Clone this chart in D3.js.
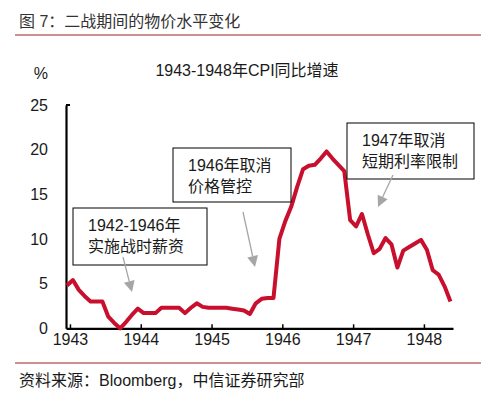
<!DOCTYPE html>
<html>
<head>
<meta charset="utf-8">
<script src="https://cdn.jsdelivr.net/npm/d3@7"></script>
<style>
  body { margin: 0; background: #fff; }
  svg text { font-family: "Liberation Sans", Arial, "Noto Sans CJK SC", sans-serif; fill: #1a1a1a; }
</style>
</head>
<body>
<svg id="chart" width="499" height="405"></svg>
<script>
// monthly CPI yoy, Jan 1943 .. Jun 1948
const cpi = [
  4.8, 5.4, 4.3, 3.6, 3.0, 3.0, 3.0, 1.3, 0.6, 0.0, 0.7, 1.5,
  2.2, 1.7, 1.7, 1.7, 2.3, 2.3, 2.3, 2.3, 1.7, 2.3, 2.8, 2.4,
  2.3, 2.3, 2.3, 2.3, 2.2, 2.1, 2.0, 1.6, 2.8, 3.3, 3.4, 3.4,
  10.0, 12.0, 13.6, 15.8, 17.8, 18.2, 18.3, 19.0, 19.8, 19.0, 18.3, 17.6,
  12.1, 11.4, 12.8, 10.5, 8.4, 8.9, 10.1, 9.4, 6.8, 8.7, 9.1, 9.5,
  9.9, 8.8, 6.5, 6.0, 4.7, 3.0
];
const years = ["1943", "1944", "1945", "1946", "1947", "1948"];
const yTicks = [0, 5, 10, 15, 20, 25];
const notes = [
  { lines: ["1942-1946年", "实施战时薪资"], box: [73, 208, 134, 57], from: [123, 257], to: [132, 292] },
  { lines: ["1946年取消", "价格管控"], box: [173, 148, 118, 54], from: [243, 212], to: [255, 267] },
  { lines: ["1947年取消", "短期利率限制"], box: [347, 123, 127, 56], from: [393, 175], to: [378, 207] }
];

const svg = d3.select("#chart");

// header
svg.append("text").attr("x", 19).attr("y", 27)
  .style("font-size", "16px").style("fill", "#333")
  .text("图 7：二战期间的物价水平变化");
svg.append("line").attr("x1", 15).attr("x2", 481).attr("y1", 35).attr("y2", 35)
  .attr("stroke", "#a31f24").attr("stroke-width", 1.2);

// chart title
svg.append("text").attr("x", 247).attr("y", 76).attr("text-anchor", "middle")
  .style("font-size", "16px").text("1943-1948年CPI同比增速");
svg.append("text").attr("x", 48).attr("y", 79).attr("text-anchor", "end")
  .style("font-size", "16px").text("%");

const x = d3.scaleLinear().domain([-0.17, 65.43]).range([66, 453]);
const y = d3.scaleLinear().domain([0, 25]).range([328.3, 105]);

// y axis
const yAxis = svg.append("g").attr("transform", "translate(66,0)")
  .call(d3.axisLeft(y).tickValues(yTicks).tickSize(0).tickPadding(18));
yAxis.select(".domain").attr("stroke", "#000").attr("stroke-width", 2.2);
yAxis.selectAll("text").style("font-size", "16px").attr("font-family", null);
yAxis.append("line").attr("x1", 0).attr("x2", 4).attr("y1", y(25)).attr("y2", y(25))
  .attr("stroke", "#000").attr("stroke-width", 2);

// x axis
const xAxis = svg.append("g").attr("transform", `translate(0,${y(0)})`)
  .call(d3.axisBottom(x)
    .tickValues(years.map((d, i) => i * 12 + 0.5))
    .tickFormat((d, i) => years[i])
    .tickSizeInner(-4).tickSizeOuter(0).tickPadding(5));
xAxis.select(".domain").attr("stroke", "#000").attr("stroke-width", 2.2);
xAxis.selectAll(".tick line").attr("stroke", "#000").attr("stroke-width", 1.5);
xAxis.selectAll("text").style("font-size", "16px").attr("font-family", null);

// line
const line = d3.line().x((d, i) => x(i)).y(d => y(d));
svg.append("path").datum(cpi)
  .attr("fill", "none").attr("stroke", "#c8102e").attr("stroke-width", 4)
  .attr("stroke-linejoin", "round").attr("d", line);

// annotations
notes.forEach(n => {
  const g = svg.append("g");
  g.append("rect").attr("x", n.box[0]).attr("y", n.box[1])
    .attr("width", n.box[2]).attr("height", n.box[3])
    .attr("fill", "#fff").attr("stroke", "#000").attr("stroke-width", 1);
  n.lines.forEach((t, k) => {
    g.append("text").attr("x", n.box[0] + 15).attr("y", n.box[1] + 23 + k * 21)
      .style("font-size", "16px").text(t);
  });
  // arrow
  const dx = n.to[0] - n.from[0], dy = n.to[1] - n.from[1];
  const len = Math.sqrt(dx * dx + dy * dy);
  const ux = dx / len, uy = dy / len;
  const bx = n.to[0] - ux * 11, by = n.to[1] - uy * 11;
  g.append("line").attr("x1", n.from[0]).attr("y1", n.from[1])
    .attr("x2", bx).attr("y2", by).attr("stroke", "#a6a6a6").attr("stroke-width", 1.3);
  g.append("path")
    .attr("d", `M${n.to[0]},${n.to[1]}L${bx - uy * 5.5},${by + ux * 5.5}L${bx + uy * 5.5},${by - ux * 5.5}Z`)
    .attr("fill", "#a6a6a6");
});

// footer
svg.append("line").attr("x1", 15).attr("x2", 481).attr("y1", 363).attr("y2", 363)
  .attr("stroke", "#a31f24").attr("stroke-width", 1.2);
svg.append("text").attr("x", 19).attr("y", 386)
  .style("font-size", "16px").text("资料来源：Bloomberg，中信证券研究部");
</script>
</body>
</html>
